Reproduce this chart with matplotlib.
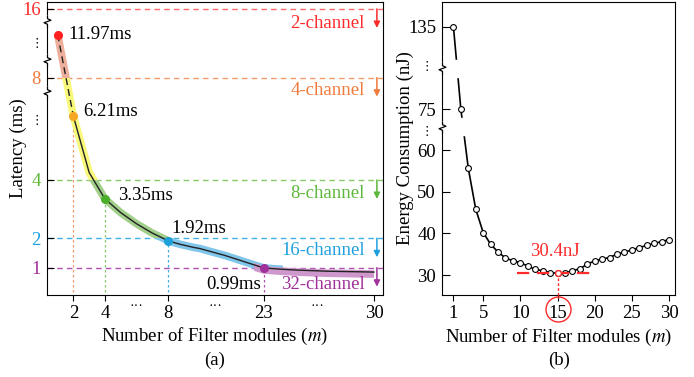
import numpy as np
import matplotlib
matplotlib.use("Agg")
import matplotlib.pyplot as plt
from matplotlib.path import Path
from matplotlib.patches import Polygon, Rectangle
from matplotlib.transforms import ScaledTranslation

plt.rcParams['font.family'] = ['Liberation Serif', 'DejaVu Sans']
plt.rcParams['mathtext.fontset'] = 'stix'
plt.rcParams['font.size'] = 13.5

# ---- data: (a) latency ----
m_lat = list(range(1, 31))
latency = [11.97, 6.21, 4.25, 3.35, 2.88, 2.50, 2.18, 1.92, 1.85, 1.79,
           1.74, 1.69, 1.65, 1.59, 1.53, 1.47, 1.41, 1.34, 1.27, 1.20,
           1.13, 1.06, 0.99, 0.95, 0.92, 0.90, 0.88, 0.87, 0.86, 0.85]

hl_m = [1, 2, 4, 8, 23]
hl_val = [11.97, 6.21, 3.35, 1.92, 0.99]
hl_text = ['11.97ms', '6.21ms', '3.35ms', '1.92ms', '0.99ms']
hl_color = ['#ff2020', '#f5a623', '#4caf2a', '#1ea0d8', '#a0309a']

channel_levels = [16, 8, 4, 2, 1]
channel_names = ['2-channel', '4-channel', '8-channel', '16-channel', '32-channel']
channel_color = ['#ff2a2a', '#f07a3a', '#5cb83a', '#1ea0e0', '#a0309a']
line_color = ['#ff6a6a', '#f29a6a', '#86c868', '#40b0e6', '#b050b0']

xticks_a = [2, 4, 8, 23, 30]
dots_a = [6, 15.4, 26.4]

# ---- data: (b) energy ----
m_en = list(range(1, 31))
energy = [135, 75, 55.6, 45.8, 40.2, 37.4, 35.5, 34.1, 33.4, 33.0,
          32.1, 31.4, 31.0, 30.6, 30.4, 30.5, 31.0, 31.5, 32.6, 33.4,
          33.8, 34.2, 35.0, 35.5, 36.0, 36.6, 37.1, 37.6, 38.0, 38.5]
xticks_b = [1, 5, 10, 15, 20, 25, 30]
yticks_b = [30, 40, 50, 60, 75, 135]


def piecewise(kv, kp):
    kv = np.asarray(kv, float)
    kp = np.asarray(kp, float)
    return (lambda v: np.interp(v, kv, kp), lambda p: np.interp(p, kp, kv))


def spine_break(ax, frac):
    zz = Path([(0, 1), (0, 0.45), (0.55, 0.2), (-0.55, -0.2), (0, -0.45), (0, -1)])
    tr = ax.transAxes
    ax.plot([0], [frac], transform=tr, marker='|', ms=9, mew=3, color='white',
            clip_on=False, zorder=6)
    ax.plot([0], [frac], transform=tr, marker=zz, ms=9, mfc='none', mec='k',
            mew=0.9, clip_on=False, zorder=7)


fig = plt.figure(figsize=(6.94, 3.77), dpi=100)

# ================= (a) =================
ax = fig.add_axes([0.0677, 0.2175, 0.4841, 0.7772])
ax.set_xscale('function', functions=piecewise([-50, 8, 23, 80], [-50, 8, 14.09, 71.09]))
ax.set_yscale('function', functions=piecewise(
    [-50, 0, 1, 2, 4, 6, 8, 12, 16, 60],
    [-1467.1, 2.9, 32.3, 61.7, 120, 179, 222.3, 265.7, 291, 568]))
ax.set_xlim(0.32, 30.57)
ax.set_ylim(0.07, 17.1)

name_dy = [-15, -13, -14, -12, -17]
for lv, nm, c, lc, dy in zip(channel_levels, channel_names, channel_color, line_color, name_dy):
    ax.axhline(lv, color=lc, lw=1, ls=(0, (4, 3)), zorder=1)
    ax.annotate(nm, (0.946, lv), xycoords=ax.get_yaxis_transform(),
                xytext=(0, dy), textcoords='offset pixels',
                ha='right', va='center', color=c)
    tip = ax.get_yaxis_transform() + ScaledTranslation(0, -0.19, fig.dpi_scale_trans)
    ax.annotate('', xy=(0.982, lv), xycoords=tip, xytext=(0.982, lv),
                textcoords=ax.get_yaxis_transform(),
                arrowprops=dict(arrowstyle='-|>', color=c, lw=1.1,
                                shrinkA=0, shrinkB=0, mutation_scale=9))

# coloured bands along the curve
band_color = ['#eeb09c', '#f8f87a', '#a2d08a', '#80c6ea', '#cf98cc']
band_box = [(-1, 40, 8, 40), (-1, 40, 4, 8), (-1, 40, 2, 4), (-1, 24.2, -1, 2),
            (21.4, 40, -1, 40)]
for i, (bc, (x0, x1, y0, y1)) in enumerate(zip(band_color, band_box)):
    tr = ax.transData
    if i == 4:
        tr = ax.transData + ScaledTranslation(0, -0.02, fig.dpi_scale_trans)
    ln, = ax.plot(m_lat, latency, color=bc, lw=5.5, solid_capstyle='butt',
                  solid_joinstyle='round', transform=tr, zorder=2)
    ln.set_clip_path(Polygon([(x0, y0), (x1, y0), (x1, y1), (x0, y1)],
                             closed=True, transform=ax.transData))

ax.plot(m_lat[:2], latency[:2], color='#222222', lw=1, ls=(0, (5, 3)), zorder=3)
ax.plot(m_lat[1:], latency[1:], color='#222222', lw=1, zorder=3)

ax.vlines(hl_m[1:], 0, hl_val[1:], colors=line_color[1:], lw=0.9,
          linestyles=[(0, (2, 2))] * 4, zorder=1)

offs = [(11, 0), (10, 5), (13, 3), (4, 12), (-3, -17)]
for mm, v, t, c, (dx, dy) in zip(hl_m, hl_val, hl_text, hl_color, offs):
    ax.plot(mm, v, 'o', ms=5.5, color=c, zorder=5)
    ax.annotate(t, (mm, v), xytext=(dx, dy), textcoords='offset pixels',
                ha='left' if dx > 0 else 'right', va='center')

ax.set_xticks(xticks_a)
ax.set_xticklabels([str(t) for t in xticks_a])
ax.set_yticks(channel_levels)
ax.set_yticklabels([str(t) for t in channel_levels])
for lbl, c in zip(ax.get_yticklabels(), channel_color):
    lbl.set_color(c)
ax.tick_params(axis='x', direction='out', length=4, pad=3)
ax.tick_params(axis='y', direction='in', length=5, pad=4.5)
ax.minorticks_off()

for xd in dots_a:
    ax.text(xd, -0.038, '···', transform=ax.get_xaxis_transform(),
            ha='center', va='center', fontsize=10)
for f in [0.935, 0.802, 0.693]:
    spine_break(ax, f)
for f in [0.86, 0.597]:
    ax.text(-0.03, f, '⋮', transform=ax.transAxes, ha='center', va='center',
            fontsize=9, family=['DejaVu Sans'])

ax.text(-0.0863, 0.5, 'Latency (ms)', transform=ax.transAxes, rotation=90,
        ha='center', va='center')
ax.text(0.5, -0.143, 'Number of Filter modules ($m$)', transform=ax.transAxes,
        ha='center', va='center')
ax.text(0.5, -0.222, '(a)', transform=ax.transAxes, ha='center', va='center')

# ================= (b) =================
bx = fig.add_axes([0.6373, 0.2175, 0.3353, 0.778])
bx.set_yscale('function', functions=piecewise(
    [0, 30, 60, 75, 135, 300], [-105, 20, 145, 185.7, 268.3, 495.5]))
bx.set_xlim(-0.5, 30.8)
bx.set_ylim(25.2, 153.2)

bx.plot(m_en, energy, color='k', lw=1.2, marker='o', ms=4.2, mfc='white',
        mec='k', mew=0.8, zorder=3)
for f in [0.773, 0.574]:
    bx.add_patch(Rectangle((0.02, f - 0.03), 0.15, 0.058, transform=bx.transAxes,
                           color='white', zorder=4))

i_min = int(np.argmin(energy))
m_min, e_min = m_en[i_min], energy[i_min]
bx.plot([m_min - 5.4, m_min + 5.0], [e_min, e_min], color='#ff2a2a', lw=1.6,
        ls=(0, (5.5, 3.5)), zorder=4)
bx.plot([m_min, m_min], [e_min, 24.6], color='#ff2a2a', lw=1,
        ls=(0, (2, 1.5)), clip_on=False, zorder=4)
bx.plot(m_min, e_min, 'o', ms=4.2, mfc='white', mec='#ff2a2a', mew=1, zorder=5)
bx.annotate(f'{e_min}nJ', (m_min, e_min), xytext=(-3, 22), textcoords='offset pixels',
            ha='center', va='center', color='#ff2a2a')
bx.plot([m_min], [-0.048], transform=bx.get_xaxis_transform(), marker='o', ms=18,
        mfc='none', mec='#ff2a2a', mew=1, clip_on=False)

bx.set_xticks(xticks_b)
bx.set_xticklabels([str(t) for t in xticks_b])
bx.set_yticks(yticks_b)
bx.set_yticklabels([str(t) for t in yticks_b])
bx.tick_params(axis='x', direction='out', length=4, pad=3)
bx.tick_params(axis='y', direction='in', length=6, pad=4.5)
bx.minorticks_off()

for f in [0.773, 0.574]:
    spine_break(bx, f)
for f in [0.778, 0.557]:
    bx.text(-0.067, f, '⋮', transform=bx.transAxes, ha='center', va='center',
            fontsize=9, family=['DejaVu Sans'])

bx.text(-0.16, 0.5, 'Energy Consumption (nJ)', transform=bx.transAxes, rotation=90,
        ha='center', va='center')
bx.text(0.5, -0.143, 'Number of Filter modules ($m$)', transform=bx.transAxes,
        ha='center', va='center')
bx.text(0.5, -0.222, '(b)', transform=bx.transAxes, ha='center', va='center')

fig.savefig('out.png', dpi=100)
